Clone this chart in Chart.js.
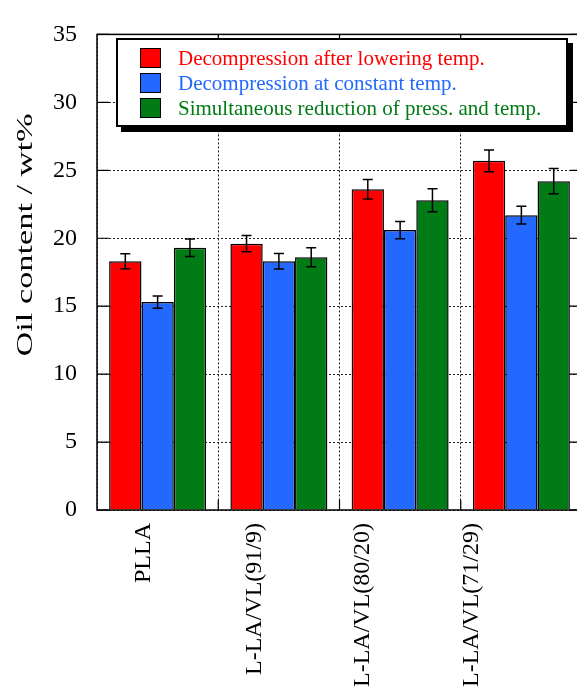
<!DOCTYPE html>
<html>
<head>
<meta charset="utf-8">
<script src="https://cdn.jsdelivr.net/npm/chart.js@4.4.1/dist/chart.umd.min.js"></script>
<style>
  html, body { margin: 0; padding: 0; background: #fff; overflow: hidden; }
  #wrap { position: relative; width: 585px; height: 688px; }
  #legend {
    position: absolute; left: 116px; top: 38px; width: 452px; height: 89px;
    box-sizing: border-box; border: 2px solid #000; background: #fff;
    box-shadow: 5px 5px 0 #000;
    font-family: "Liberation Serif", serif; font-size: 21px;
  }
  .row { position: absolute; left: 0; height: 25px; line-height: 25px; white-space: nowrap; }
  .sw { position: absolute; left: 22px; top: 2px; width: 19px; height: 18px; border: 1.5px solid #000; }
  .lbl { position: absolute; left: 60px; top: 0; }
</style>
</head>
<body>
<div id="wrap">
  <canvas id="chart" width="585" height="688"></canvas>
  <div id="legend"></div>
</div>
<script>
// Sample names along the x axis
const categories = ["PLLA", "L-LA/VL(91/9)", "L-LA/VL(80/20)", "L-LA/VL(71/29)"];

// Oil content (wt%) for each process
const afterLowering = [18.3, 19.6, 23.6, 25.7];
const constantTemp = [15.3, 18.3, 20.6, 21.7];
const simultaneous = [19.3, 18.6, 22.8, 24.2];

// Error bar half-widths
const afterLoweringErr = [0.55, 0.6, 0.72, 0.8];
const constantTempErr = [0.45, 0.57, 0.63, 0.65];
const simultaneousErr = [0.65, 0.7, 0.85, 0.93];

// Y tick labels
const yTicks = [0, 5, 10, 15, 20, 25, 30, 35];

const seriesNames = [
    "Decompression after lowering temp.",
    "Decompression at constant temp.",
    "Simultaneous reduction of press. and temp."
];
const seriesColours = ["#ff0000", "#2469ff", "#007b15"];

// x labels in the original sit a bit left of the category centres
const labelShift = [-14, -24, -37, -50];

const serif = "Liberation Serif";

// Build the HTML legend box
const legend = document.getElementById("legend");
seriesNames.forEach(function(name, i) {
    const row = document.createElement("div");
    row.className = "row";
    row.style.top = (6 + i * 25) + "px";
    const sw = document.createElement("div");
    sw.className = "sw";
    sw.style.background = seriesColours[i];
    const lbl = document.createElement("div");
    lbl.className = "lbl";
    lbl.style.color = seriesColours[i];
    lbl.textContent = name;
    row.appendChild(sw);
    row.appendChild(lbl);
    legend.appendChild(row);
});

// Frame, inward ticks, error bars, rotated labels and y title
const extras = {
    id: "extras",
    afterDatasetsDraw(chart) {
        const ctx = chart.ctx;
        const a = chart.chartArea;
        const x = chart.scales.x;
        const y = chart.scales.y;
        ctx.save();

        // error bars
        ctx.strokeStyle = "#000";
        ctx.lineWidth = 1.5;
        chart.data.datasets.forEach(function(ds, di) {
            const meta = chart.getDatasetMeta(di);
            meta.data.forEach(function(bar, i) {
                const v = ds.data[i];
                const e = ds.errors[i];
                const yTop = y.getPixelForValue(v + e);
                const yBot = y.getPixelForValue(v - e);
                ctx.beginPath();
                ctx.moveTo(bar.x, yTop); ctx.lineTo(bar.x, yBot);
                ctx.moveTo(bar.x - 5, yTop); ctx.lineTo(bar.x + 5, yTop);
                ctx.moveTo(bar.x - 5, yBot); ctx.lineTo(bar.x + 5, yBot);
                ctx.stroke();
            });
        });

        // inward ticks on y
        ctx.lineWidth = 1.2;
        yTicks.forEach(function(t) {
            const py = y.getPixelForValue(t);
            ctx.beginPath();
            ctx.moveTo(a.left, py); ctx.lineTo(a.left + 12, py);
            ctx.moveTo(a.right - 12, py); ctx.lineTo(a.right, py);
            ctx.stroke();
        });
        // inward ticks at category boundaries
        for (let i = 0; i < categories.length - 1; i++) {
            const px = (x.getPixelForValue(i) + x.getPixelForValue(i + 1)) / 2;
            ctx.beginPath();
            ctx.moveTo(px, a.top); ctx.lineTo(px, a.top + 10);
            ctx.moveTo(px, a.bottom); ctx.lineTo(px, a.bottom - 10);
            ctx.stroke();
        }

        // plot frame
        ctx.lineWidth = 1.5;
        ctx.strokeRect(a.left, a.top, a.right - a.left, a.bottom - a.top);

        // rotated x labels
        ctx.fillStyle = "#000";
        ctx.font = "normal 400 24px '" + serif + "'";
        ctx.textAlign = "right";
        ctx.textBaseline = "middle";
        categories.forEach(function(c, i) {
            ctx.save();
            ctx.translate(x.getPixelForValue(i) + labelShift[i], a.bottom + 13);
            ctx.rotate(-Math.PI / 2);
            ctx.fillText(c, 0, 0);
            ctx.restore();
        });

        // stretched y-axis title
        ctx.save();
        ctx.translate(26, 235);
        ctx.rotate(-Math.PI / 2);
        ctx.scale(1.43, 1);
        ctx.textAlign = "center";
        ctx.fillText("Oil content / wt%", 0, 0);
        ctx.restore();

        ctx.restore();
    }
};

function drawChart() {
    const ctx = document.getElementById("chart").getContext("2d");
    new Chart(ctx, {
        type: "bar",
        data: {
            labels: categories,
            datasets: [
                { label: seriesNames[0], data: afterLowering, errors: afterLoweringErr, backgroundColor: seriesColours[0] },
                { label: seriesNames[1], data: constantTemp, errors: constantTempErr, backgroundColor: seriesColours[1] },
                { label: seriesNames[2], data: simultaneous, errors: simultaneousErr, backgroundColor: seriesColours[2] }
            ].map(function(d) {
                d.borderColor = "#000";
                d.borderWidth = 1.5;
                d.categoryPercentage = 0.8;
                d.barPercentage = 1.0;
                return d;
            })
        },
        options: {
            responsive: false,
            animation: false,
            events: [],
            layout: { padding: { top: 24, right: 3, bottom: 178, left: 0 } },
            plugins: {
                legend: { display: false },
                tooltip: { enabled: false }
            },
            scales: {
                x: {
                    ticks: { display: false },
                    border: { display: false, dash: [2, 2] },
                    grid: { offset: true, drawTicks: false, color: "#222", lineWidth: 1 }
                },
                y: {
                    min: 0,
                    max: 35,
                    afterFit: function(scale) { scale.width = 97; },
                    afterBuildTicks: function(scale) {
                        scale.ticks = yTicks.map(function(v) { return { value: v }; });
                    },
                    ticks: {
                        color: "#000",
                        font: { family: serif, size: 24, weight: "normal" },
                        padding: 20
                    },
                    border: { display: false, dash: [2, 2] },
                    grid: { drawTicks: false, color: "#222", lineWidth: 1 }
                }
            }
        },
        plugins: [extras]
    });
}

// make sure the serif face is ready before the canvas text is drawn
document.fonts.load("24px '" + serif + "'").then(drawChart, drawChart);
</script>
</body>
</html>
